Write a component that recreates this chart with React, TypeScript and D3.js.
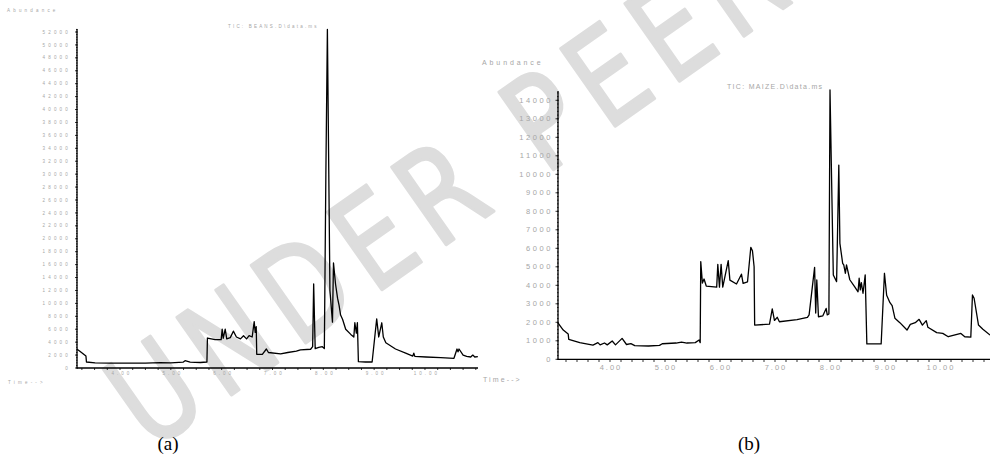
import React from "react";
import * as d3 from "d3";

// BEANS chromatogram (a): retention time (min) and abundance
const beansTime = [3.15, 3.21, 3.33, 3.34, 3.51, 3.8, 4.2, 4.5, 4.79, 5.0, 5.24, 5.28, 5.38, 5.58, 5.71, 5.72, 5.87, 5.99, 6.01, 6.03, 6.07, 6.1, 6.17, 6.23, 6.29, 6.37, 6.43, 6.49, 6.54, 6.6, 6.64, 6.66, 6.68, 6.69, 6.8, 6.88, 6.92, 7.16, 7.3, 7.47, 7.55, 7.75, 7.79, 7.81, 7.84, 7.91, 7.98, 8.02, 8.05, 8.08, 8.13, 8.18, 8.2, 8.24, 8.28, 8.31, 8.34, 8.38, 8.44, 8.54, 8.6, 8.62, 8.65, 8.67, 8.69, 8.83, 8.96, 9.05, 9.09, 9.15, 9.18, 9.23, 9.42, 9.62, 9.76, 9.78, 9.8, 10.02, 10.31, 10.57, 10.63, 10.65, 10.67, 10.75, 10.82, 10.9, 10.94, 10.98, 11.04];
const beansAbund = [2940, 2600, 1860, 930, 800, 760, 770, 740, 820, 800, 900, 1130, 900, 850, 930, 4640, 4400, 4400, 6000, 4600, 6000, 4500, 4700, 5700, 4800, 4500, 5000, 4500, 5000, 4800, 7170, 5500, 6400, 2120, 2100, 2940, 2400, 2200, 2400, 2600, 2800, 2900, 3300, 13000, 3000, 3200, 3300, 3000, 30000, 52400, 12000, 7100, 16250, 13000, 10800, 9700, 8200, 7500, 6000, 5200, 4800, 7000, 5400, 7000, 980, 930, 930, 7600, 4800, 7000, 4800, 3900, 2940, 2300, 1850, 2300, 1800, 1700, 1600, 1500, 2940, 2500, 2940, 2000, 1800, 1700, 2000, 1700, 1750];

// MAIZE chromatogram (b)
const maizeTime = [3.05, 3.15, 3.24, 3.25, 3.45, 3.69, 3.78, 3.82, 3.9, 3.95, 4.04, 4.1, 4.22, 4.3, 4.38, 4.45, 4.7, 4.9, 4.95, 5.2, 5.3, 5.4, 5.55, 5.62, 5.64, 5.65, 5.68, 5.71, 5.75, 5.94, 5.96, 5.99, 6.02, 6.05, 6.15, 6.18, 6.3, 6.39, 6.42, 6.5, 6.56, 6.59, 6.62, 6.63, 6.9, 6.95, 6.99, 7.04, 7.08, 7.4, 7.59, 7.62, 7.72, 7.74, 7.76, 7.79, 7.87, 7.93, 7.95, 7.98, 8.0, 8.06, 8.12, 8.16, 8.18, 8.23, 8.25, 8.28, 8.3, 8.36, 8.45, 8.51, 8.53, 8.55, 8.57, 8.6, 8.64, 8.67, 8.93, 8.99, 9.03, 9.09, 9.13, 9.18, 9.27, 9.4, 9.46, 9.55, 9.62, 9.68, 9.75, 9.78, 9.94, 10.05, 10.15, 10.38, 10.45, 10.56, 10.59, 10.62, 10.7, 10.78, 10.91];
const maizeAbund = [1980, 1580, 1370, 1080, 900, 770, 900, 780, 880, 780, 990, 780, 1130, 800, 850, 740, 720, 750, 840, 880, 930, 880, 900, 1040, 900, 5280, 4120, 4340, 3960, 3900, 5130, 3900, 5130, 3900, 5330, 4280, 4070, 4600, 4100, 4180, 6050, 5870, 5000, 1850, 1900, 2720, 2100, 2270, 2030, 2150, 2270, 2400, 4970, 2500, 4290, 2300, 2350, 2750, 2400, 2450, 14560, 4560, 4200, 10500, 6270, 5190, 5100, 4650, 5100, 4300, 3920, 3650, 4380, 3750, 4140, 3570, 4560, 830, 830, 4650, 3460, 3060, 2900, 2220, 1980, 1580, 1890, 1980, 2160, 1850, 2090, 1730, 1440, 1400, 1220, 1400, 1220, 1200, 3480, 3300, 1850, 1620, 1310];

const beansYTicks = d3.range(0, 52001, 2000);
const beansXTicks = [4, 5, 6, 7, 8, 9, 10];
const maizeYTicks = d3.range(0, 14001, 1000);
const maizeXTicks = [4, 5, 6, 7, 8, 9, 10];

const GRAY = "#a6a6a6";
const WATERMARK = "#dddddd";

export default function App() {
  // panel (a)
  const xL = d3.scaleLinear().domain([3.154, 11.043]).range([77, 478]);
  const yL = d3.scaleLinear().domain([0, 52000]).range([368, 32]);
  // panel (b)
  const xR = d3.scaleLinear().domain([3.0545, 10.909]).range([558, 990]);
  const yR = d3.scaleLinear().domain([0, 14000]).range([359.3, 100.3]);

  const lineL = d3
    .line<number>()
    .x((_, i) => xL(beansTime[i]))
    .y((v) => yL(v));
  const lineR = d3
    .line<number>()
    .x((_, i) => xR(maizeTime[i]))
    .y((v) => yR(v));

  const minorXL = d3.range(3.25, 11.01, 0.25);
  const minorYL = d3.range(0, 52401, 400);
  const minorXR = d3.range(3.2, 10.91, 0.2);
  const minorYR = d3.range(0, 14501, 200);

  const small = { fontFamily: "Liberation Sans, Arial, sans-serif", fill: GRAY } as const;

  return (
    <svg
      width={990}
      height={463}
      style={{ position: "absolute", left: 0, top: 0, background: "#fff" }}
    >
      {/* watermark */}
      <text
        transform="translate(150,452) rotate(-35) scale(0.8,1)"
        fontFamily="DejaVu Sans"
        fontSize={130}
        letterSpacing={16}
        fill={WATERMARK}
        stroke={WATERMARK}
        strokeWidth={3}
        strokeLinejoin="round"
        strokeLinecap="round"
      >
        UNDER PEER REVIEW
      </text>

      {/* ---------- panel (a) ---------- */}
      <text x={7} y={12} fontSize={4.5} letterSpacing={3.2} {...small}>
        Abundance
      </text>
      <text x={228} y={28} fontSize={4.5} letterSpacing={2.2} {...small}>
        TIC: BEANS.D\data.ms
      </text>
      <text x={8} y={384} fontSize={4.5} letterSpacing={3.2} {...small}>
        Time--&gt;
      </text>
      {beansYTicks.map((v) => (
        <text key={v} x={71} y={yL(v) + 1.6} fontSize={4.5} letterSpacing={3.2} textAnchor="end" {...small}>
          {String(v)}
        </text>
      ))}
      {beansXTicks.map((t) => (
        <text key={t} x={xL(t) + 2} y={375} fontSize={4.5} letterSpacing={3} textAnchor="middle" {...small}>
          {t.toFixed(2)}
        </text>
      ))}
      <g stroke="#000" strokeWidth={0.8}>
        {minorYL.map((v) => (
          <line key={v} x1={76} x2={77.5} y1={yL(v)} y2={yL(v)} />
        ))}
        {beansYTicks.map((v) => (
          <line key={"m" + v} x1={75} x2={77.5} y1={yL(v)} y2={yL(v)} />
        ))}
        {minorXL.map((t) => (
          <line key={t} x1={xL(t)} x2={xL(t)} y1={368} y2={370} />
        ))}
      </g>
      <line x1={77} x2={77} y1={29} y2={368.5} stroke="#000" strokeWidth={1.3} />
      <line x1={77} x2={478} y1={368} y2={368} stroke="#000" strokeWidth={1.3} />
      <path d={lineL(beansAbund) ?? ""} fill="none" stroke="#000" strokeWidth={1.3} strokeLinejoin="round" />

      {/* ---------- panel (b) ---------- */}
      <text x={482} y={65} fontSize={7} letterSpacing={2.9} {...small}>
        Abundance
      </text>
      <text x={727} y={89} fontSize={7} letterSpacing={1.3} {...small}>
        TIC: MAIZE.D\data.ms
      </text>
      <text x={483} y={382} fontSize={7} letterSpacing={2.1} {...small}>
        Time--&gt;
      </text>
      {maizeYTicks.map((v) => (
        <text key={v} x={553} y={yR(v) + 2.5} fontSize={7.5} letterSpacing={2.6} textAnchor="end" {...small}>
          {String(v)}
        </text>
      ))}
      {maizeXTicks.map((t) => (
        <text key={t} x={xR(t) + 1} y={370} fontSize={7.5} letterSpacing={2} textAnchor="middle" {...small}>
          {t.toFixed(2)}
        </text>
      ))}
      <g stroke="#000" strokeWidth={0.8}>
        {minorYR.map((v) => (
          <line key={v} x1={557} x2={558.5} y1={yR(v)} y2={yR(v)} />
        ))}
        {maizeYTicks.map((v) => (
          <line key={"m" + v} x1={555.5} x2={558.5} y1={yR(v)} y2={yR(v)} />
        ))}
        {minorXR.map((t) => (
          <line key={t} x1={xR(t)} x2={xR(t)} y1={359.3} y2={362} />
        ))}
      </g>
      <line x1={558} x2={558} y1={91} y2={359.8} stroke="#000" strokeWidth={1.3} />
      <line x1={558} x2={990} y1={359.3} y2={359.3} stroke="#000" strokeWidth={1.3} />
      <path d={lineR(maizeAbund) ?? ""} fill="none" stroke="#000" strokeWidth={1.3} strokeLinejoin="round" />

      {/* captions */}
      <text x={168} y={450} fontSize={19} textAnchor="middle" fontFamily="Liberation Serif, Times New Roman, serif" fill="#000">
        (a)
      </text>
      <text x={749} y={450} fontSize={19} textAnchor="middle" fontFamily="Liberation Serif, Times New Roman, serif" fill="#000">
        (b)
      </text>
    </svg>
  );
}
